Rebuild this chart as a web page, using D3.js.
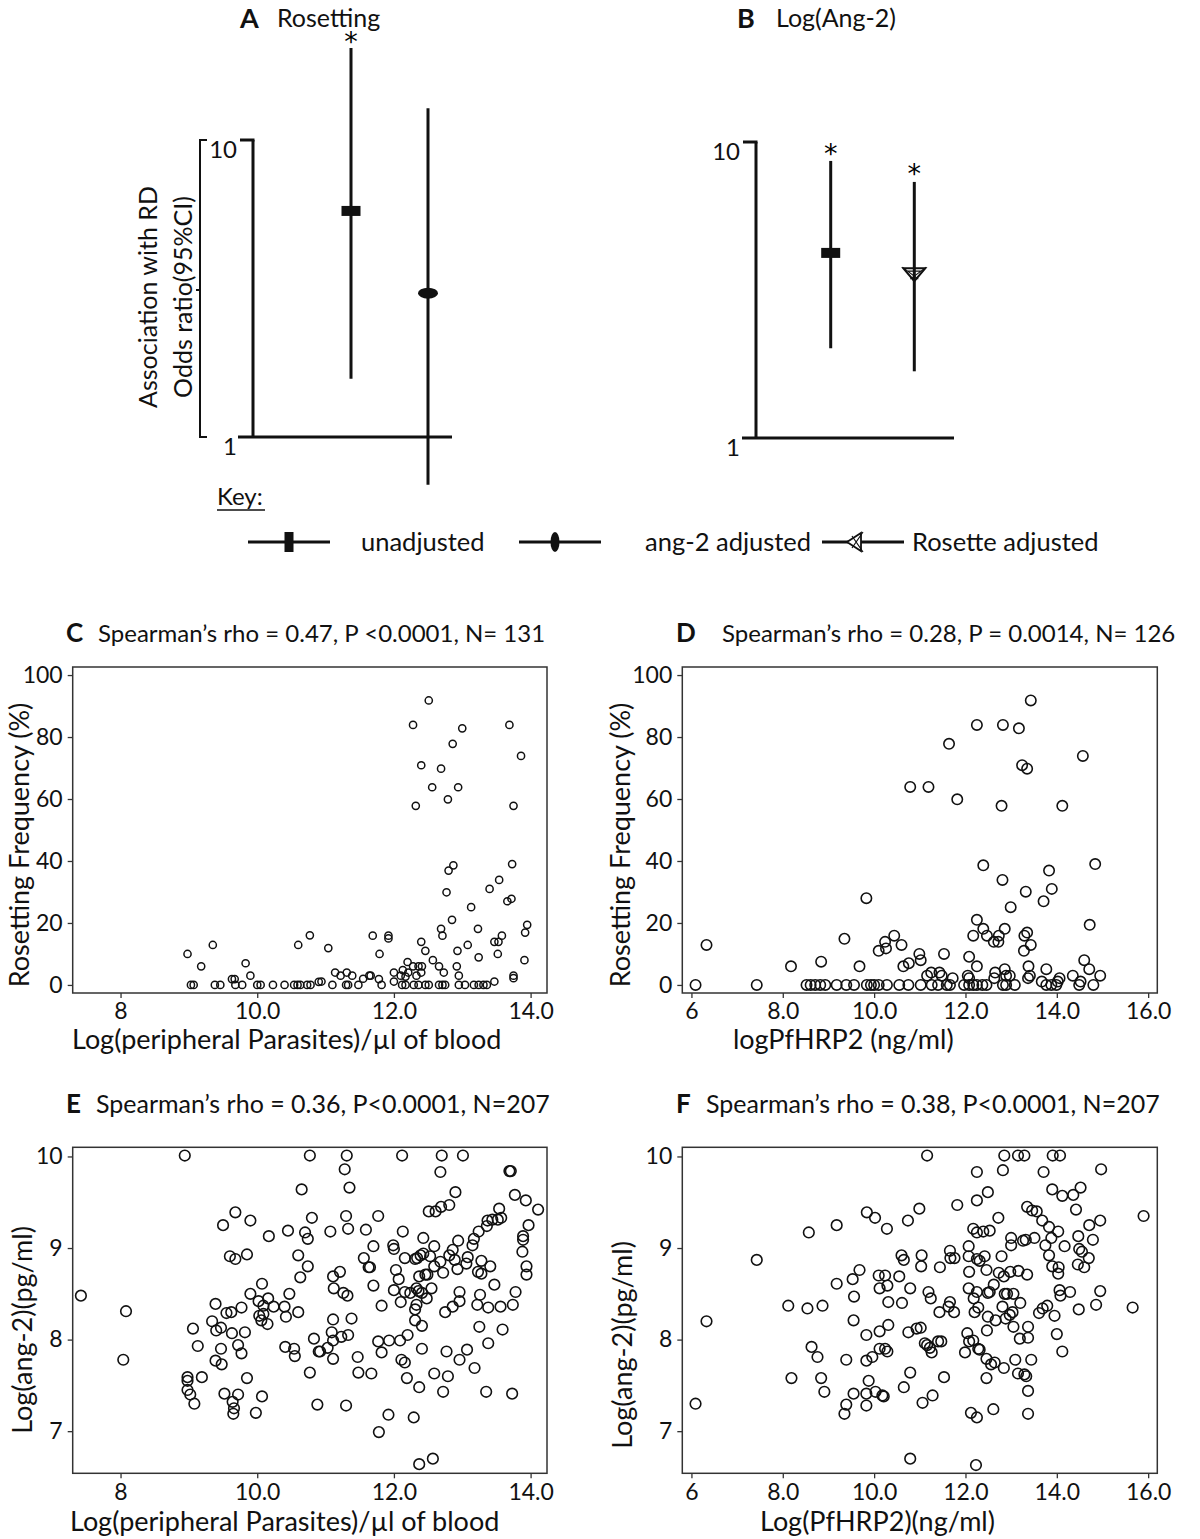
<!DOCTYPE html>
<html><head><meta charset="utf-8">
<script src="https://cdn.jsdelivr.net/npm/d3@7"></script>
<style>
body{margin:0;background:#fff}
text{font-family:Lato,"Open Sans",sans-serif;fill:#111}
</style>
</head><body>
<svg id="chart" width="1200" height="1539"></svg>
<script>
// ---------------- DATA ----------------
// Panel A (Rosetting): odds ratios with 95% CI
const forestAOR = [5.77, 3.05];
const forestALo = [1.57, 0.69];
const forestAHi = [20.4, 12.8];
const forestAStar = [true, false];
// Panel B (Log(Ang-2))
const forestBOR = [4.22, 3.55];
const forestBLo = [2.01, 1.68];
const forestBHi = [8.63, 7.33];
const forestBStar = [true, true];
const forestTicks = [1, 10];
const keyLabels = ["unadjusted", "ang-2 adjusted", "Rosette adjusted"];

const titleC = "Spearman\u2019s rho = 0.47, P <0.0001, N= 131";
const titleD = "Spearman\u2019s rho = 0.28, P = 0.0014, N= 126";
const titleE = "Spearman\u2019s rho = 0.36, P<0.0001, N=207";
const titleF = "Spearman\u2019s rho = 0.38, P<0.0001, N=207";

const ticksRos = [0, 20, 40, 60, 80, 100];
const ticksAng = [7, 8, 9, 10];
const ticksPara = [8, 10, 12, 14];
const ticksHRP = [6, 8, 10, 12, 14, 16];

// Panel C: log parasites vs rosetting frequency
const panelC = [
[8.98,10.0],[9.35,12.9],[9.18,6.0],[9.03,0],[9.07,0],[9.83,7.0],[9.90,3.0],[9.63,1.9],[9.67,1.9],[9.38,0],[9.46,0],[9.68,0],[9.78,0],[10.0,0],[10.05,0],[10.23,0],[10.40,0],[10.54,0],[10.59,0],[10.63,0],[10.73,0],[10.78,0],[10.6,12.9],[10.77,16.0],[10.9,1.0],
[12.51,91.8],[12.28,83.9],[13.0,82.8],[13.69,83.9],[12.86,77.8],[13.86,73.9],[12.40,70.9],[12.69,69.8],[12.56,63.8],[12.94,63.8],[12.79,59.9],[12.32,57.8],[13.75,57.8],
[13.73,39.0],[12.87,38.6],[12.80,36.9],[12.77,29.9],[13.54,33.9],[13.40,31.0],[13.66,27.0],[13.72,27.8],[13.13,25.1],[12.85,21.0],[12.69,18.1],[12.71,15.9],[13.23,18.1],[13.95,19.4],[13.92,16.9],[13.58,15.9],[13.47,13.9],[13.53,13.9],[12.40,13.9],[12.46,11.0],[13.08,12.9],[12.93,11.0],[13.52,10.0],[13.24,8.9],[12.57,8.0],[12.2,7.4],[13.91,8.0],[12.66,6.0],[12.73,4.0],[12.28,6.0],[12.36,6.0],[12.41,6.0],[12.92,6.0],[12.13,4.8],[12.21,4.0],[12.17,2.7],[12.10,3.0],[12.33,3.0],[12.4,4.0],[12.95,3.0],[13.75,3.0],[13.75,2.2],[13.47,1.1],
[11.04,11.9],[11.69,15.9],[11.92,15.9],[11.92,15.0],[11.79,10.0],[11.14,4.0],[11.22,3.0],[11.31,4.0],[11.39,3.0],[11.55,2.0],[11.64,3.0],[11.66,3.0],[11.78,1.9],[12.0,4.0],[12.0,1.1],[10.94,1.1],
[11.10,0],[11.30,0],[11.33,0],[11.48,0],[11.82,0],[12.12,0],[12.17,0],[12.29,0],[12.36,0],[12.46,0],[12.51,0],[12.66,0],[12.71,0],[12.75,0],[12.95,0],[13.04,0],[13.17,0],[13.24,0],[13.31,0],[13.36,0]
];

// Panel D: logPfHRP2 vs rosetting frequency
const panelD = [
[6.09,0],[6.33,12.9],[7.43,0],[8.18,6.0],[8.84,7.5],[9.35,14.9],[9.68,6.0],[9.83,28.0],[10.10,11.0],[10.24,13.9],[10.26,11.8],
[8.52,0],[8.61,0],[8.71,0],[8.82,0],[8.93,0],[9.18,0],[9.39,0],[9.56,0],[9.84,0],[9.93,0],[10.0,0],[10.10,0],[10.28,0],
[13.43,91.8],[12.25,83.9],[12.82,83.9],[13.17,82.8],[11.64,77.8],[14.57,73.9],[13.24,70.9],[13.35,69.8],[10.79,63.9],[11.19,63.9],[11.82,59.9],[12.79,57.8],[14.12,57.8],
[12.39,38.6],[14.84,39.0],[13.83,36.9],[12.81,33.9],[13.89,31.0],[13.32,30.1],[13.71,27.0],[12.99,25.1],[12.25,21.0],[14.72,19.4],[12.39,18.1],[12.47,15.9],[12.17,15.9],[12.86,18.1],[12.73,15.9],[12.62,13.9],[12.72,13.9],[13.29,15.9],[13.35,16.9],[13.43,12.9],[13.28,11.0],[10.44,15.9],[10.6,12.9],[10.64,6.0],[10.76,7.0],[10.99,10.0],[11.02,8.0],[11.53,10.0],[12.08,9.1],[12.25,6.0],[14.6,8.0],[14.71,5.1],[13.77,5.1],[13.38,6.0],[12.86,5.1],
[11.16,3],[11.25,4],[11.43,4],[11.48,3],[11.72,2.2],[12.05,3],[12.08,2.2],[12.65,4],[12.63,2.2],[12.97,3],[12.89,3],[13.41,3],[13.37,2.2],[14.06,2.2],[14.35,3],[14.52,1.1],[14.95,3],[13.67,1.1],[14.02,1.1],
[10.55,0],[10.75,0],[11.02,0],[11.26,0],[11.40,0],[11.59,0],[11.66,0],[11.97,0],[12.08,0],[12.17,0],[12.25,0],[12.37,0],[12.46,0],[12.82,0],[12.89,0],[13.08,0],[13.77,0],[13.88,0],[13.99,0],[14.49,0],[14.80,0]
];

// Panel E: log parasites vs log(ang-2)
const panelE = [
[7.42,8.48],[8.94,10.01],[8.08,8.31],[8.04,7.78],[9.39,8.39],[9.50,9.25],[9.68,9.39],[9.90,9.30],[10.17,9.13],[10.45,9.19],[10.70,9.17],[10.74,9.10],[10.65,9.64],[10.77,10.01],[10.80,9.33],
[9.60,8.91],[9.68,8.88],[9.85,8.93],[10.6,8.92],[10.74,8.80],[10.63,8.68],[10.07,8.61],[9.90,8.50],[10.47,8.50],[10.02,8.42],[10.16,8.45],[9.77,8.35],[10.24,8.36],[10.40,8.36],[10.09,8.37],[9.55,8.29],[9.62,8.30],[10.03,8.26],[10.09,8.28],[10.06,8.21],[10.42,8.25],[10.60,8.30],[10.15,8.17],[9.34,8.20],[9.40,8.10],[9.47,8.13],[9.06,8.12],[9.63,8.07],[9.82,8.08],[10.83,8.01],[9.13,7.93],[9.47,7.90],[9.72,7.94],[9.77,7.85],[10.41,7.92],[10.54,7.90],[10.55,7.82],[10.90,7.87],[9.39,7.77],[9.48,7.73],[8.98,7.59],[8.98,7.55],[9.19,7.59],[9.85,7.58],[10.77,7.64],[8.98,7.45],[9.02,7.40],[9.08,7.30],[9.52,7.41],[9.72,7.40],[9.64,7.32],[9.66,7.25],[9.65,7.19],[10.07,7.38],[9.98,7.20],[10.88,7.29],
[11.31,10.01],[12.12,10.01],[12.70,10.01],[13.01,10.01],[11.28,9.86],[12.68,9.83],[13.69,9.84],[13.71,9.84],[11.35,9.66],[12.90,9.61],[13.77,9.58],[13.93,9.52],[14.11,9.42],[12.51,9.40],[12.61,9.40],[12.69,9.45],[12.81,9.47],[13.54,9.43],[11.30,9.35],[11.77,9.35],[13.37,9.30],[13.44,9.31],[13.52,9.31],[13.57,9.33],[13.97,9.25],[13.36,9.24],[13.24,9.18],[13.17,9.10],[13.15,9.03],[13.89,9.13],[13.89,9.09],[13.88,8.96],[11.07,9.18],[11.33,9.21],[11.59,9.20],[12.13,9.18],[12.43,9.11],[12.94,9.08],[11.99,9.03],[12.0,8.99],[11.70,9.02],[12.59,9.02],[12.86,8.98],[12.81,8.92],[12.89,8.87],[12.39,8.92],[12.34,8.89],[12.31,8.88],[12.43,8.94],[12.16,8.89],[12.53,8.91],[12.68,8.85],[13.08,8.90],[12.93,8.77],[13.06,8.83],[13.28,8.86],[13.23,8.74],[13.28,8.72],[13.41,8.80],[13.94,8.80],[13.94,8.71],[11.56,8.89],[11.63,8.79],[11.65,8.79],[11.11,8.69],[11.21,8.74],[11.70,8.59],[11.12,8.56],[11.26,8.51],[11.32,8.48],[12.03,8.76],[12.07,8.66],[12.46,8.71],[12.49,8.71],[12.37,8.69],[12.59,8.80],[12.72,8.73],[12.33,8.56],[12.36,8.53],[12.41,8.51],[12.0,8.54],[12.16,8.52],[12.24,8.51],[12.55,8.56],[12.48,8.45],[12.10,8.41],[12.33,8.38],[12.31,8.33],[11.82,8.37],[12.96,8.52],[12.96,8.42],[13.26,8.49],[13.22,8.38],[12.86,8.36],[12.75,8.30],[13.38,8.35],[13.56,8.36],[13.74,8.38],[13.78,8.52],[13.47,8.60],[11.11,8.22],[11.38,8.23],[12.31,8.21],[12.41,8.15],[13.25,8.14],[13.59,8.11],[10.92,7.87],[11.03,7.91],[11.09,8.08],[11.11,7.99],[11.11,7.79],[11.23,8.03],[11.33,8.05],[11.77,7.98],[11.82,7.86],[11.93,7.99],[12.09,7.99],[12.20,8.05],[12.11,7.78],[12.16,7.75],[12.41,7.90],[12.77,7.87],[13.07,7.89],[12.96,7.78],[13.38,7.96],[11.47,7.81],[11.48,7.64],[11.67,7.63],[12.19,7.58],[12.59,7.63],[12.79,7.60],[13.18,7.69],[12.37,7.48],[12.72,7.43],[13.35,7.43],[13.73,7.41],[11.30,7.28],[11.92,7.18],[12.29,7.15],[11.78,6.99],[12.37,6.64],[12.57,6.70]
];

// Panel F: log(PfHRP2) vs log(ang-2)
const panelF = [
[6.09,7.30],[6.33,8.20],[7.43,8.87],[8.12,8.37],[8.19,7.58],[8.54,8.34],[8.57,9.17],[8.87,8.37],[8.63,7.92],[8.76,7.81],[8.84,7.58],[8.91,7.43],[9.18,9.25],[9.18,8.61],[9.39,7.78],[9.39,7.29],[9.35,7.19],[9.53,8.66],[9.56,8.47],[9.55,8.21],[9.55,7.41],[9.68,8.76],[9.84,9.39],[10.02,9.33],[10.28,9.21],[9.83,8.05],[10.10,8.70],[10.24,8.70],[10.12,8.56],[10.29,8.59],[10.31,8.41],[10.12,8.09],[10.31,8.16],[9.83,7.77],[9.96,7.81],[10.12,7.90],[10.24,7.90],[10.29,7.87],[9.88,7.55],[9.83,7.41],[9.83,7.28],[10.03,7.43],[10.18,7.39],[10.21,7.38],
[11.16,10.01],[12.85,10.01],[13.15,10.01],[13.29,10.01],[13.91,10.01],[14.07,10.01],[12.25,9.83],[12.82,9.85],[13.71,9.83],[14.97,9.86],[13.90,9.64],[14.12,9.57],[14.36,9.58],[14.52,9.66],[12.49,9.61],[12.25,9.52],[11.82,9.47],[10.99,9.43],[10.74,9.30],[13.35,9.45],[13.46,9.41],[13.56,9.40],[13.68,9.30],[13.83,9.23],[14.03,9.18],[14.42,9.42],[14.95,9.30],[14.71,9.25],[12.72,9.33],[12.17,9.21],[12.25,9.17],[12.39,9.18],[12.53,9.19],[13.00,9.11],[13.00,9.03],[13.26,9.08],[13.32,9.09],[13.51,9.11],[13.75,9.03],[13.88,9.11],[13.83,8.92],[13.90,8.80],[14.04,8.79],[14.03,8.72],[14.17,9.02],[14.47,9.13],[14.79,9.09],[14.49,8.99],[14.55,8.96],[14.70,8.89],[14.46,8.82],[14.60,8.79],[12.07,9.02],[12.07,8.91],[11.66,8.97],[11.67,8.89],[11.76,8.89],[12.25,8.88],[12.31,8.86],[12.42,8.91],[12.79,8.91],[12.46,8.76],[12.08,8.74],[12.73,8.73],[12.84,8.69],[12.98,8.74],[13.16,8.75],[13.35,8.71],[10.60,8.92],[10.65,8.87],[11.04,8.92],[11.03,8.80],[11.44,8.79],[10.55,8.69],[10.79,8.56],[10.61,8.40],[11.19,8.52],[11.24,8.45],[11.43,8.30],[11.63,8.36],[11.66,8.41],[11.75,8.30],[12.07,8.56],[12.18,8.45],[12.25,8.52],[12.20,8.30],[12.28,8.35],[12.49,8.51],[12.53,8.52],[12.62,8.60],[12.49,8.25],[12.66,8.21],[12.47,8.10],[12.81,8.36],[12.86,8.50],[12.91,8.50],[13.05,8.50],[12.88,8.23],[12.97,8.27],[13.03,8.30],[13.20,8.40],[13.05,8.14],[13.37,8.14],[13.19,8.01],[13.37,8.02],[13.61,8.29],[13.69,8.34],[13.79,8.37],[13.95,8.26],[14.06,8.54],[14.08,8.48],[14.29,8.52],[14.48,8.33],[14.86,8.38],[14.95,8.53],[15.66,8.35],[15.90,9.35],[14.0,8.06],[14.12,7.87],[10.75,8.08],[10.93,8.12],[11.02,8.13],[11.11,7.96],[11.16,7.94],[11.22,7.91],[11.26,7.86],[11.40,7.98],[11.47,7.98],[12.04,8.07],[12.08,7.98],[12.17,7.99],[11.99,7.86],[12.28,7.90],[12.31,7.89],[12.46,7.79],[12.56,7.73],[12.64,7.75],[12.84,7.69],[13.09,7.78],[13.44,7.78],[13.15,7.63],[13.29,7.62],[13.33,7.60],[13.37,7.44],[13.37,7.19],[10.79,7.64],[10.65,7.48],[11.06,7.31],[11.28,7.39],[11.53,7.59],[12.46,7.58],[12.12,7.20],[12.25,7.15],[12.61,7.24],[10.79,6.70],[12.23,6.63]
];

// ---------------- DRAWING ----------------
const svg = d3.select("#chart");
const INK = "#111";

// ---- forest plots ----
function forest(opt) {
  const g = svg.append("g");
  const y = d3.scaleLog().domain([1, 10]).range([opt.yBottom, opt.yTop]);
  const x = d3.scaleLinear().domain([0, 1]).range(opt.xCats);
  // title
  g.append("text").attr("x", opt.titleX).attr("y", 28).attr("font-size", 27).attr("font-weight", "bold").text(opt.letter);
  g.append("text").attr("x", opt.titleTextX).attr("y", 27).attr("font-size", 25).text(opt.title);
  // axes
  g.append("line").attr("x1", opt.axisX).attr("x2", opt.axisX).attr("y1", y(10)).attr("y2", y(1))
    .attr("stroke", INK).attr("stroke-width", 3);
  g.append("line").attr("x1", opt.axisX - 13).attr("x2", opt.axisX + 1.5).attr("y1", y(10)).attr("y2", y(10))
    .attr("stroke", INK).attr("stroke-width", 3);
  g.append("line").attr("x1", opt.baseX[0]).attr("x2", opt.baseX[1]).attr("y1", y(1)).attr("y2", y(1))
    .attr("stroke", INK).attr("stroke-width", 3);
  g.selectAll("text.tk").data(forestTicks).join("text").attr("class", "tk")
    .attr("x", opt.axisX - 16).attr("y", d => y(d) + 18).attr("text-anchor", "end")
    .attr("font-size", 24).text(d => d);
  // error bars
  opt.or.forEach((v, i) => {
    const cx = x(i);
    g.append("line").attr("x1", cx).attr("x2", cx).attr("y1", y(opt.hi[i])).attr("y2", y(opt.lo[i]))
      .attr("stroke", INK).attr("stroke-width", 3);
    const cy = y(v);
    const m = opt.markers[i];
    if (m === "square") {
      g.append("rect").attr("x", cx - 9.5).attr("y", cy - 5).attr("width", 19).attr("height", 10).attr("fill", INK);
    } else if (m === "ellipse") {
      g.append("ellipse").attr("cx", cx).attr("cy", cy).attr("rx", 10).attr("ry", 5.5).attr("fill", INK);
    } else {
      g.append("path").attr("d", `M${cx-11},${cy-7}L${cx+11},${cy-7}L${cx},${cy+6}Z`)
        .attr("fill", "none").attr("stroke", INK).attr("stroke-width", 2);
      g.append("path").attr("d", `M${cx-12},${cy-8}L${cx+4},${cy+4}M${cx+12},${cy-8}L${cx-4},${cy+4}M${cx-7},${cy-4}L${cx+7},${cy-4}`)
        .attr("fill", "none").attr("stroke", INK).attr("stroke-width", 1.2);
    }
    if (opt.star[i]) {
      g.append("text").attr("x", cx).attr("y", y(opt.hi[i]) + opt.starDy[i]).attr("text-anchor", "middle")
        .style("font-family", "'DejaVu Sans',sans-serif").style("fill", "#000").attr("font-size", 27).text("*");
    }
  });
  return y;
}

const yA = forest({letter: "A", title: "Rosetting", titleX: 240, titleTextX: 277, yTop: 140, yBottom: 437,
  axisX: 253, baseX: [238, 452], xCats: [351, 428], starDy: [3, 0],
  or: forestAOR, lo: forestALo, hi: forestAHi, star: forestAStar, markers: ["square", "ellipse"]});
forest({letter: "B", title: "Log(Ang-2)", titleX: 737, titleTextX: 776, yTop: 142, yBottom: 438,
  axisX: 756, baseX: [742, 954], xCats: [830.7, 914.3], starDy: [2, 1],
  or: forestBOR, lo: forestBLo, hi: forestBHi, star: forestBStar, markers: ["square", "triangle"]});

// bracket and y label for panel A
svg.append("path").attr("d", `M207,${yA(10)}H200V${yA(1)}H207M200,290H196`)
  .attr("fill", "none").attr("stroke", INK).attr("stroke-width", 2);
svg.append("text").attr("transform", "translate(157,297) rotate(-90)").attr("text-anchor", "middle")
  .attr("font-size", 25).text("Association with RD");
svg.append("text").attr("transform", "translate(192,297) rotate(-90)").attr("text-anchor", "middle")
  .attr("font-size", 25).text("Odds ratio(95%CI)");

// key
svg.append("text").attr("x", 217).attr("y", 505).attr("font-size", 24).text("Key:");
svg.append("line").attr("x1", 217).attr("x2", 265).attr("y1", 510).attr("y2", 510).attr("stroke", INK).attr("stroke-width", 1.5);
const keyItems = [{x1: 248, x2: 330, m: 289, tx: 361}, {x1: 519, x2: 601, m: 555, tx: 645}, {x1: 822, x2: 904, m: 855, tx: 912}];
keyItems.forEach((k, i) => {
  const yk = 542;
  svg.append("line").attr("x1", k.x1).attr("x2", k.x2).attr("y1", yk).attr("y2", yk).attr("stroke", INK).attr("stroke-width", 3);
  if (i === 0) svg.append("rect").attr("x", k.m - 4.5).attr("y", yk - 10).attr("width", 9).attr("height", 20).attr("fill", INK);
  else if (i === 1) svg.append("ellipse").attr("cx", k.m).attr("cy", yk).attr("rx", 4.5).attr("ry", 10).attr("fill", INK);
  else {
    svg.append("path").attr("d", `M${k.m-8},${yk}L${k.m+6},${yk-9}L${k.m+6},${yk+9}Z`).attr("fill", "#fff").attr("stroke", INK).attr("stroke-width", 1.8);
    svg.append("path").attr("d", `M${k.m+8},${yk-10}L${k.m-3},${yk+6}M${k.m+8},${yk+10}L${k.m-3},${yk-6}`).attr("stroke", INK).attr("stroke-width", 1.2);
  }
  svg.append("text").attr("x", k.tx).attr("y", yk + 9).attr("font-size", 25.5).text(keyLabels[i]);
});

// ---- scatter panels ----
function scatter(opt) {
  const g = svg.append("g");
  const x = d3.scaleLinear().domain(opt.xDomain).range([opt.left, opt.right]);
  const y = d3.scaleLinear().domain(opt.yDomain).range([opt.bottom, opt.top]);
  // titles
  g.append("text").attr("x", opt.letterX).attr("y", opt.titleY).attr("font-size", 26).attr("font-weight", "bold").text(opt.letter);
  g.append("text").attr("x", opt.titleTextX).attr("y", opt.titleY).attr("font-size", opt.titleSize).text(opt.title);
  // axes
  const ax = g.append("g").attr("transform", `translate(0,${opt.bottom})`)
    .call(d3.axisBottom(x).tickValues(opt.xTicks).tickSize(5).tickPadding(5)
      .tickFormat(d => (d === opt.xTicks[0] ? d3.format("d")(d) : d3.format(".1f")(d))));
  const ay = g.append("g").attr("transform", `translate(${opt.left},0)`)
    .call(d3.axisLeft(y).tickValues(opt.yTicks).tickSize(5).tickPadding(5).tickFormat(d3.format("d")));
  [ax, ay].forEach(a => {
    a.select(".domain").remove();
    a.selectAll("line").attr("stroke", "#333").attr("stroke-width", 1.3);
    a.selectAll("text").attr("font-size", 23).attr("fill", INK).style("font-family", "Lato,'Open Sans',sans-serif");
  });
  g.append("rect").attr("x", opt.left).attr("y", opt.top).attr("width", opt.right - opt.left)
    .attr("height", opt.bottom - opt.top).attr("fill", "none").attr("stroke", "#333").attr("stroke-width", 1.5);
  // labels
  g.append("text").attr("x", opt.xLabelX).attr("y", opt.bottom + opt.xLabelDy).attr("font-size", 27).text(opt.xLabel);
  g.append("text").attr("transform", `translate(${opt.yLabelX},${opt.yLabelY}) rotate(-90)`)
    .attr("text-anchor", "middle").attr("dominant-baseline", "central").attr("font-size", 27).text(opt.yLabel);
  // points
  g.selectAll("circle").data(opt.data).join("circle")
    .attr("cx", d => x(d[0])).attr("cy", d => y(d[1])).attr("r", opt.r)
    .attr("fill", "none").attr("stroke", INK).attr("stroke-width", opt.sw);
}

scatter({data: panelC, letter: "C", title: titleC, letterX: 66, titleTextX: 98, titleY: 642, titleSize: 24,
  left: 72.7, right: 547, top: 667, bottom: 993, xDomain: [7.3, 14.24], yDomain: [-2.6, 102.6],
  xTicks: ticksPara, yTicks: ticksRos, xLabel: "Log(peripheral Parasites)/\u00b5l of blood", xLabelX: 72, xLabelDy: 56,
  yLabel: "Rosetting Frequency (%)", yLabelX: 18, yLabelY: 845, r: 3.6, sw: 1.5});
scatter({data: panelD, letter: "D", title: titleD, letterX: 676, titleTextX: 722, titleY: 642, titleSize: 24,
  left: 682.3, right: 1157.3, top: 667, bottom: 993, xDomain: [5.8, 16.2], yDomain: [-2.6, 102.6],
  xTicks: ticksHRP, yTicks: ticksRos, xLabel: "logPfHRP2 (ng/ml)", xLabelX: 733, xLabelDy: 56,
  yLabel: "Rosetting Frequency (%)", yLabelX: 619, yLabelY: 845, r: 5.2, sw: 1.6});
scatter({data: panelE, letter: "E", title: titleE, letterX: 66, titleTextX: 96, titleY: 1113, titleSize: 25,
  left: 72.7, right: 547, top: 1147.3, bottom: 1473.3, xDomain: [7.3, 14.24], yDomain: [6.54, 10.1],
  xTicks: ticksPara, yTicks: ticksAng, xLabel: "Log(peripheral Parasites)/\u00b5l of blood", xLabelX: 70, xLabelDy: 58,
  yLabel: "Log(ang-2)(pg/ml)", yLabelX: 21, yLabelY: 1330, r: 5.3, sw: 1.6});
scatter({data: panelF, letter: "F", title: titleF, letterX: 676, titleTextX: 706, titleY: 1113, titleSize: 25,
  left: 682.3, right: 1157.3, top: 1147.3, bottom: 1473.3, xDomain: [5.8, 16.2], yDomain: [6.54, 10.1],
  xTicks: ticksHRP, yTicks: ticksAng, xLabel: "Log(PfHRP2)(ng/ml)", xLabelX: 760, xLabelDy: 58,
  yLabel: "Log(ang-2)(pg/ml)", yLabelX: 621, yLabelY: 1345, r: 5.3, sw: 1.6});
</script>
</body></html>
